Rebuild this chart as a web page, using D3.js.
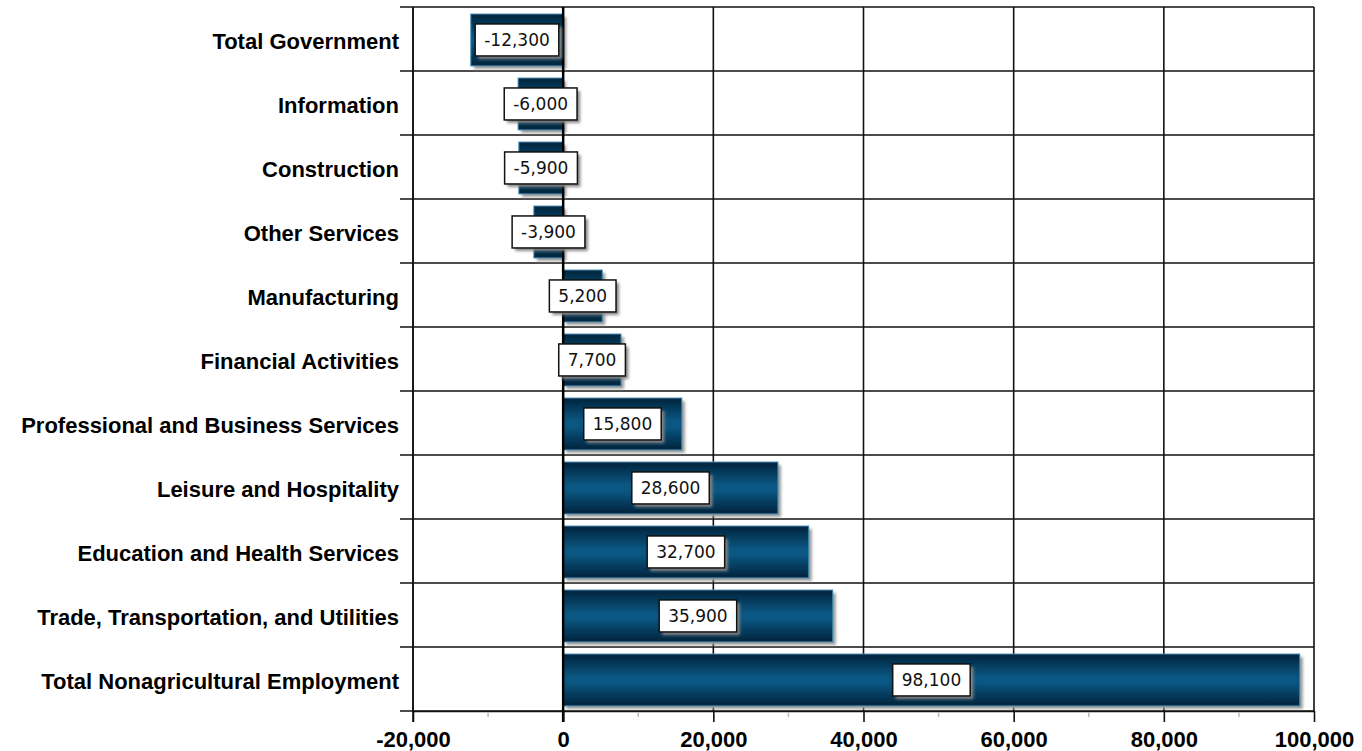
<!DOCTYPE html>
<html><head><meta charset="utf-8">
<script src="https://cdn.jsdelivr.net/npm/d3@7"></script>
<style>body{margin:0;background:#fff}</style>
</head><body>
<svg id="c" width="1362" height="751"></svg>
<script>
const categories = ["Total Government","Information","Construction","Other Services","Manufacturing","Financial Activities","Professional and Business Services","Leisure and Hospitality","Education and Health Services","Trade, Transportation, and Utilities","Total Nonagricultural Employment"];
const values = [-12300,-6000,-5900,-3900,5200,7700,15800,28600,32700,35900,98100];
const xTicks = [-20000,0,20000,40000,60000,80000,100000];
const minorTicks = [-10000,10000,30000,50000,70000,90000];

const svg = d3.select("#c");
const L = 413, R = 1314, T = 7, B = 711;
const x = d3.scaleLinear().domain([-20000,100000]).range([L,R]);
const y = d3.scaleBand().domain(categories).range([T,B]).padding(0);
const bw = y.bandwidth();
const fmt0 = d3.format(",");
const fmt = d => fmt0(d).replace("\u2212","-");

const defs = svg.append("defs");
const g = defs.append("linearGradient").attr("id","bar").attr("x1",0).attr("y1",0).attr("x2",0).attr("y2",1);
[[0,"#022338"],[0.12,"#03314f"],[0.45,"#0a5783"],[0.55,"#0a5783"],[0.88,"#03314f"],[1,"#022338"]].forEach(s=>g.append("stop").attr("offset",s[0]).attr("stop-color",s[1]));
const f = defs.append("filter").attr("id","sh").attr("x","-10%").attr("y","-20%").attr("width","130%").attr("height","160%");
f.append("feGaussianBlur").attr("stdDeviation",1.5);

// vertical grid
svg.append("g").selectAll("line").data(xTicks).join("line")
  .attr("x1",d=>x(d)).attr("x2",d=>x(d)).attr("y1",T).attr("y2",B)
  .attr("stroke","#111").attr("stroke-width",1.6);
// horizontal grid
const bounds = categories.map(c=>y(c)).concat([B]);
svg.append("g").selectAll("line").data(bounds).join("line")
  .attr("x1",400).attr("x2",R).attr("y1",d=>d).attr("y2",d=>d)
  .attr("stroke","#111").attr("stroke-width",1.6);

// bar shadows
svg.append("g").selectAll("rect").data(values).join("rect")
  .attr("x",(d)=>Math.min(x(0),x(d))+3)
  .attr("y",(d,i)=>y(categories[i])+bw*0.11+3)
  .attr("width",d=>Math.abs(x(d)-x(0)))
  .attr("height",bw*0.81)
  .attr("fill","#999").attr("filter","url(#sh)");
// bars
svg.append("g").selectAll("rect").data(values).join("rect")
  .attr("x",(d)=>Math.min(x(0),x(d)))
  .attr("y",(d,i)=>y(categories[i])+bw*0.11)
  .attr("width",d=>Math.abs(x(d)-x(0)))
  .attr("height",bw*0.81)
  .attr("fill","url(#bar)").attr("stroke","#3d88b3").attr("stroke-width",1);

// zero line
svg.append("line").attr("x1",x(0)).attr("x2",x(0)).attr("y1",T).attr("y2",722)
  .attr("stroke","#000").attr("stroke-width",2.5);
// left border
svg.append("line").attr("x1",L).attr("x2",L).attr("y1",T).attr("y2",722).attr("stroke","#111").attr("stroke-width",1.6);

// bottom axis
const ax = svg.append("g").attr("transform",`translate(0,${B})`)
  .call(d3.axisBottom(x).tickValues(xTicks).tickFormat(fmt).tickSize(11).tickSizeOuter(0));
ax.select(".domain").attr("stroke","#111").attr("stroke-width",1.6);
ax.selectAll(".tick line").attr("stroke","#111").attr("stroke-width",1.6);
ax.selectAll(".tick text").attr("font-family","Liberation Sans, Arial, sans-serif").attr("font-weight","bold")
  .attr("font-size",22).attr("fill","#000").attr("y",20).attr("dy","0.71em");
svg.append("g").selectAll("line").data(minorTicks).join("line")
  .attr("x1",d=>x(d)).attr("x2",d=>x(d)).attr("y1",B+1).attr("y2",B+6)
  .attr("stroke","#bbb").attr("stroke-width",1.5);

// category labels
svg.append("g").selectAll("text").data(categories).join("text")
  .attr("x",399).attr("y",c=>y(c)+bw/2+2).attr("dy","0.35em")
  .attr("text-anchor","end").attr("font-family","Liberation Sans, Arial, sans-serif")
  .attr("font-weight","bold").attr("font-size",22).attr("fill","#000").text(c=>c);

// value labels
const lg = svg.append("g").selectAll("g").data(values).join("g")
  .attr("transform",(d,i)=>`translate(${(x(0)+x(d))/2},${y(categories[i])+bw*0.11+bw*0.405})`);
lg.append("text").attr("class","v").attr("text-anchor","middle").attr("dy","0.36em")
  .attr("font-family","DejaVu Sans, Verdana, sans-serif").attr("font-size",17).attr("fill","#111")
  .text(d=>fmt(d));
lg.each(function(){
  const gg = d3.select(this);
  const t = gg.select("text");
  const bb = t.node().getBBox();
  const w = bb.width+18, h = 32;
  gg.insert("rect","text").attr("x",-w/2+3).attr("y",-h/2+3).attr("width",w).attr("height",h)
    .attr("fill","#888").attr("filter","url(#sh)");
  gg.insert("rect","text").attr("x",-w/2).attr("y",-h/2).attr("width",w).attr("height",h)
    .attr("fill","#fff").attr("stroke","#111").attr("stroke-width",1.5);
});
</script>
</body></html>
